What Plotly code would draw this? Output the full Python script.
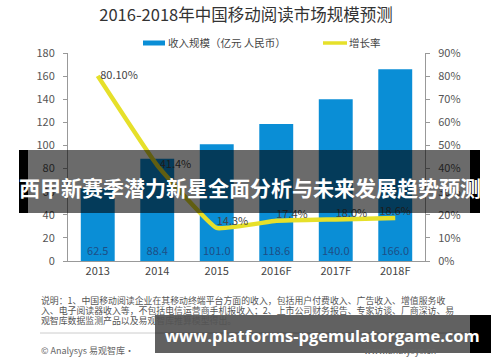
import plotly.graph_objects as go

# ---- data ----
years = ["2013", "2014", "2015", "2016F", "2017F", "2018F"]
revenue = [62.5, 88.4, 101.0, 118.6, 140.0, 166.0]
revenue_labels = ["62.5", "88.4", "101.0", "118.6", "140.0", "166.0"]
growth = [0.801, 0.414, 0.143, 0.174, 0.180, 0.186]
growth_labels = [" 80.10%", " 41.4%", "14.3%", "17.4%", "18.0%", "18.6%"]
series_names = ["收入规模（亿元 人民币）", "增长率"]

W, H = 500, 362
L, R, T, B = 68, 75, 53, 101
PW, PH = W - L - R, H - T - B

BAR_COLOR = "#0a8ed6"
LINE_COLOR = "#e6e02a"


def px(x):
    return (x - L) / PW


def py(y):
    return (H - B - y) / PH


CJK = "Noto Sans CJK SC"

fig = go.Figure()
fig.add_trace(go.Bar(
    x=years, y=revenue, name=series_names[0],
    marker=dict(color=BAR_COLOR, line=dict(width=0)),
    text=revenue_labels, textposition="inside", insidetextanchor="start",
    textfont=dict(color="#1d4f86", size=11, family=CJK),
    cliponaxis=False, showlegend=False,
))
fig.add_trace(go.Scatter(
    x=years, y=growth, name=series_names[1], yaxis="y2", mode="lines+text",
    line=dict(color=LINE_COLOR, width=4.5, shape="spline", smoothing=0.3),
    text=growth_labels,
    textposition=["middle right", "middle right", "top right", "top right", "top right", "top center"],
    textfont=dict(color="#444444", size=11, family=CJK),
    cliponaxis=False, showlegend=False,
))

shapes = [
    # legend symbols
    dict(type="rect", xref="paper", yref="paper", x0=px(143), x1=px(165), y0=py(45.5), y1=py(40.5),
         fillcolor=BAR_COLOR, line=dict(width=0)),
    dict(type="line", xref="paper", yref="paper", x0=px(323), x1=px(347), y0=py(43), y1=py(43),
         line=dict(color=LINE_COLOR, width=3.5)),
    # banner over chart
    dict(type="rect", xref="paper", yref="paper", x0=px(28), x1=px(470), y0=py(213), y1=py(150),
         fillcolor="rgba(0,0,0,0.58)", line=dict(width=0), layer="above"),
    dict(type="rect", xref="paper", yref="paper", x0=px(19), x1=px(28), y0=py(213), y1=py(150),
         fillcolor="black", line=dict(width=0), layer="above"),
    dict(type="rect", xref="paper", yref="paper", x0=px(470), x1=px(480), y0=py(213), y1=py(150),
         fillcolor="black", line=dict(width=0), layer="above"),
    # separator line
    dict(type="line", xref="paper", yref="paper", x0=px(40), x1=px(470), y0=py(333), y1=py(333),
         line=dict(color="#cccccc", width=1), layer="above"),
    # bottom banner
    dict(type="rect", xref="paper", yref="paper", x0=px(155), x1=px(470), y0=py(353), y1=py(315),
         fillcolor="rgba(0,0,0,0.62)", line=dict(width=0), layer="above"),
    dict(type="rect", xref="paper", yref="paper", x0=px(470), x1=px(491), y0=py(353), y1=py(315),
         fillcolor="black", line=dict(width=0), layer="above"),
]

notes = [
    "说明：1、中国移动阅读企业在其移动终端平台方面的收入，包括用户付费收入、广告收入、增值服务收",
    "入、电子阅读器收入等，不包括电信运营商手机报收入；2、上市公司财务报告、专家访谈、厂商深访、易",
    "观智库数据监测产品以及易观智库推算模型得出。",
]
annotations = [
    dict(text=series_names[0], xref="paper", yref="paper", x=px(166), y=py(43),
         xanchor="left", yanchor="middle", showarrow=False,
         font=dict(size=10.5, color="#444444", family=CJK)),
    dict(text=series_names[1], xref="paper", yref="paper", x=px(347), y=py(43),
         xanchor="left", yanchor="middle", showarrow=False,
         font=dict(size=10.5, color="#444444", family=CJK)),
]
for i, line in enumerate(notes):
    annotations.append(dict(
        text=line, xref="paper", yref="paper", x=px(39), y=py(300 + 10 * i),
        xanchor="left", yanchor="middle", showarrow=False,
        font=dict(size=8.9, color="#555555", family=CJK)))
annotations += [
    dict(text="© Analysys 易观智库·", xref="paper", yref="paper", x=px(39), y=py(350),
         xanchor="left", yanchor="middle", showarrow=False,
         font=dict(size=9, color="#666666", family=CJK)),
    dict(text="www.analysys.cn", xref="paper", yref="paper", x=px(438), y=py(350),
         xanchor="right", yanchor="middle", showarrow=False,
         font=dict(size=9, color="#666666", family=CJK)),
    dict(text="<b>西甲新赛季潜力新星全面分析与未来发展趋势预测</b>", xref="paper", yref="paper",
         x=px(249.5), y=py(187), xanchor="center", yanchor="middle", showarrow=False,
         font=dict(size=21, color="white", family=CJK)),
    dict(text="<b>www.platforms-pgemulatorgame.com</b>", xref="paper", yref="paper",
         x=px(322), y=py(335), xanchor="center", yanchor="middle", showarrow=False,
         font=dict(size=16.5, color="white", family="Open Sans")),
]

fig.update_layout(
    width=W, height=H,
    margin=dict(l=L, r=R, t=T, b=B, pad=0, autoexpand=False),
    paper_bgcolor="white", plot_bgcolor="white",
    font=dict(family=CJK, color="#555555", size=11),
    title=dict(text="2016-2018年中国移动阅读市场规模预测", x=0.492, xanchor="center",
               y=1 - 15 / H, yanchor="middle", automargin=False,
               font=dict(size=16.5, color="#333333", family=CJK)),
    bargap=0.43,
    showlegend=False,
    xaxis=dict(showgrid=False, showline=True, linecolor="#999999", linewidth=1, automargin=False,
               ticks="", tickfont=dict(size=11, color="#444444"), fixedrange=True),
    yaxis=dict(range=[0, 180], dtick=20, showgrid=False, showline=True, linecolor="#999999",
               ticks="outside", ticklen=4, tickcolor="#999999", zeroline=False, automargin=False,
               tickfont=dict(size=11, color="#555555"), ticklabelstandoff=6),
    yaxis2=dict(range=[0, 0.9], dtick=0.1, tickformat=".0%", overlaying="y", side="right",
                showgrid=False, showline=True, linecolor="#999999", ticks="outside",
                ticklen=4, tickcolor="#999999", zeroline=False, automargin=False,
                tickfont=dict(size=11, color="#555555"), ticklabelstandoff=6),
    shapes=shapes,
    annotations=annotations,
)

fig.write_html("out.html", config={"displayModeBar": False},
               post_script="document.body.style.margin='0';")
